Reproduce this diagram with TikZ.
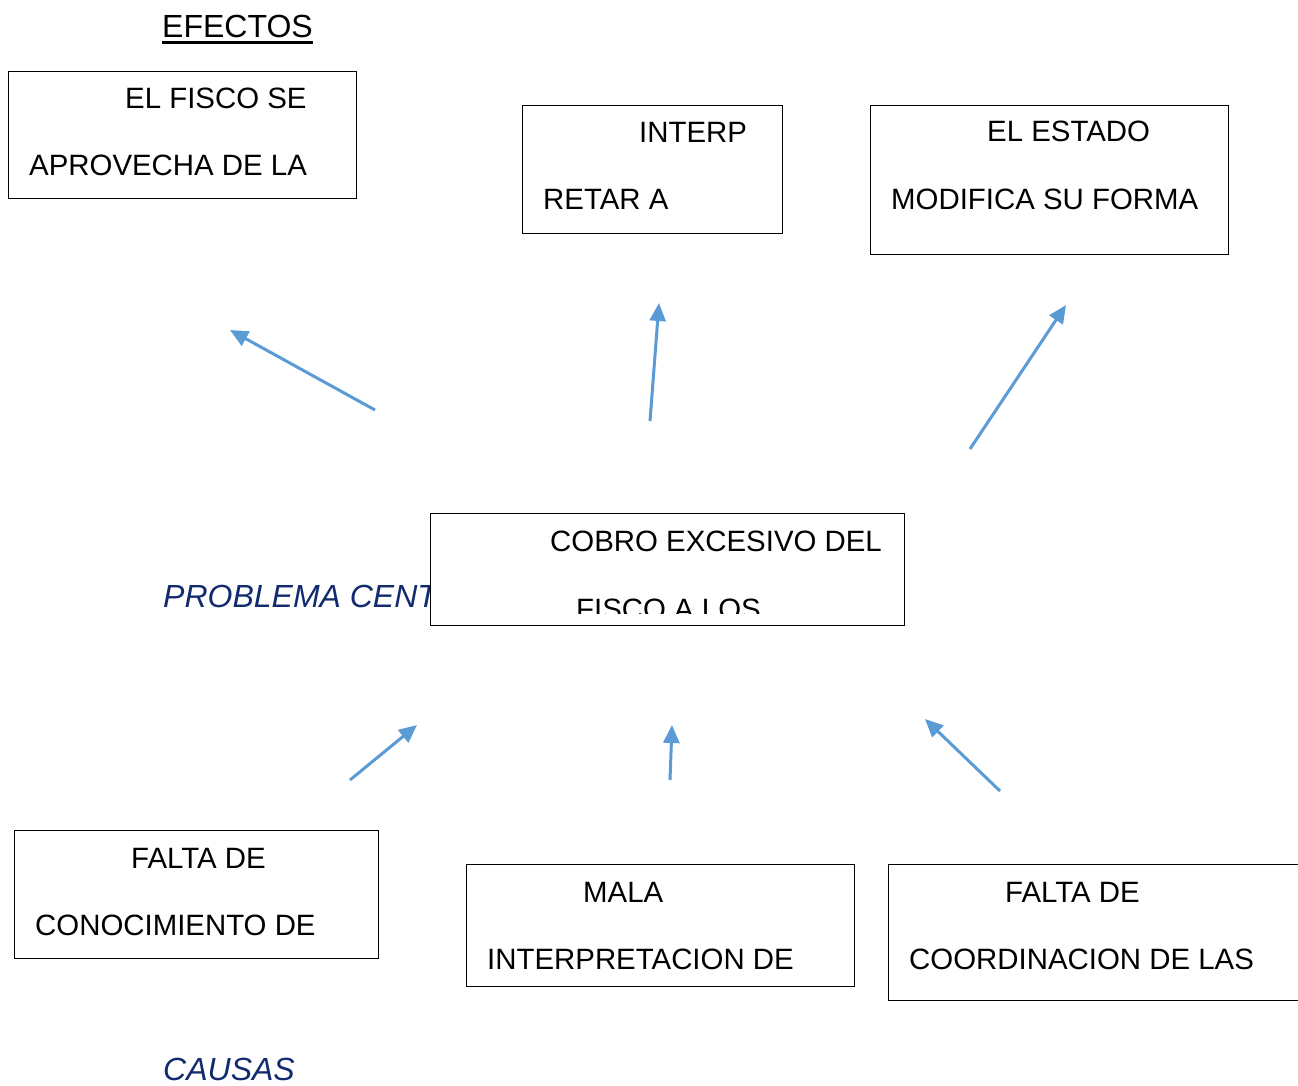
\documentclass[tikz,border=0pt]{standalone}
\usepackage{fontspec}
\setmainfont{Liberation Sans}
\usetikzlibrary{arrows.meta}
\definecolor{arrowblue}{RGB}{91,155,213}
\definecolor{titleblue}{RGB}{18,42,110}
\tikzset{
  box/.style={draw=black, line width=1pt, fill=white, inner sep=0pt, anchor=north west},
  txt/.style={inner sep=0pt, anchor=base west, font=\fontsize{29.4}{35}\selectfont},
  head/.style={inner sep=0pt, anchor=base west, font=\fontsize{32}{38}\selectfont},
  ital/.style={inner sep=0pt, anchor=base west, text=titleblue, font=\fontsize{32}{38}\selectfont\itshape},
  arr/.style={draw=arrowblue, line width=3pt, -{Triangle[length=18pt,width=16pt]}}
}
\begin{document}
\begin{tikzpicture}[x=1pt,y=-1pt]
\useasboundingbox (0,0) rectangle (1298,1086);
% title
\node[head] (ef) at (162,38) {EFECTOS};
\draw[line width=2.8pt] ([yshift=-4.5pt]ef.base west) -- ([yshift=-4.5pt]ef.base east);
% effect boxes
\node[box, minimum width=348pt, minimum height=127pt] (A) at (8,71) {};
\node[txt] (A1) at (125,109) {EL FISCO SE};
\node[txt] (A2) at (29,176) {APROVECHA DE LA};
\node[box, minimum width=260pt, minimum height=128pt] (B) at (522,105) {};
\node[txt] (B1) at (639,143) {INTERP};
\node[txt] (B2) at (543,210) {RETAR A};
\node[box, minimum width=358pt, minimum height=149pt] (C) at (870,105) {};
\node[txt] (C1) at (987,142) {EL ESTADO};
\node[txt] (C2) at (891,210) {MODIFICA SU FORMA};
% central problem
\node[ital] (pc) at (163,607) {PROBLEMA CENTRAL};
\node[box, minimum width=474pt, minimum height=112pt] (P) at (430,513) {};
\node[txt] (P1) at (550,551) {COBRO EXCESIVO DEL};
\begin{scope}
\clip (431,514) rectangle (903,613);
\node[txt] (P2) at (576,619) {FISCO A LOS};
\end{scope}
% cause boxes
\node[box, minimum width=364pt, minimum height=128pt] (D) at (14,830) {};
\node[txt] (D1) at (131,868) {FALTA DE};
\node[txt] (D2) at (35,935) {CONOCIMIENTO DE};
\node[box, minimum width=388pt, minimum height=122pt] (E) at (466,864) {};
\node[txt] (E1) at (583,902) {MALA};
\node[txt] (E2) at (487,969) {INTERPRETACION DE};
\node[box, minimum width=420pt, minimum height=136pt] (F) at (888,864) {};
\node[txt] (F1) at (1005,902) {FALTA DE};
\node[txt] (F2) at (909,969) {COORDINACION DE LAS};
\node[ital] (ca) at (163,1080) {CAUSAS};
% arrow end points
\coordinate (a1s) at (375,410); \coordinate (a1e) at (230,330);
\coordinate (a2s) at (650,421); \coordinate (a2e) at (659,303);
\coordinate (a3s) at (970,449); \coordinate (a3e) at (1066,305);
\coordinate (a4s) at (350,780); \coordinate (a4e) at (417,725);
\coordinate (a5s) at (670,780); \coordinate (a5e) at (672,725);
\coordinate (a6s) at (1000,791); \coordinate (a6e) at (925,719);
\draw[arr] (a1s) -- (a1e);
\draw[arr] (a2s) -- (a2e);
\draw[arr] (a3s) -- (a3e);
\draw[arr] (a4s) -- (a4e);
\draw[arr] (a5s) -- (a5e);
\draw[arr] (a6s) -- (a6e);
\end{tikzpicture}
\end{document}
